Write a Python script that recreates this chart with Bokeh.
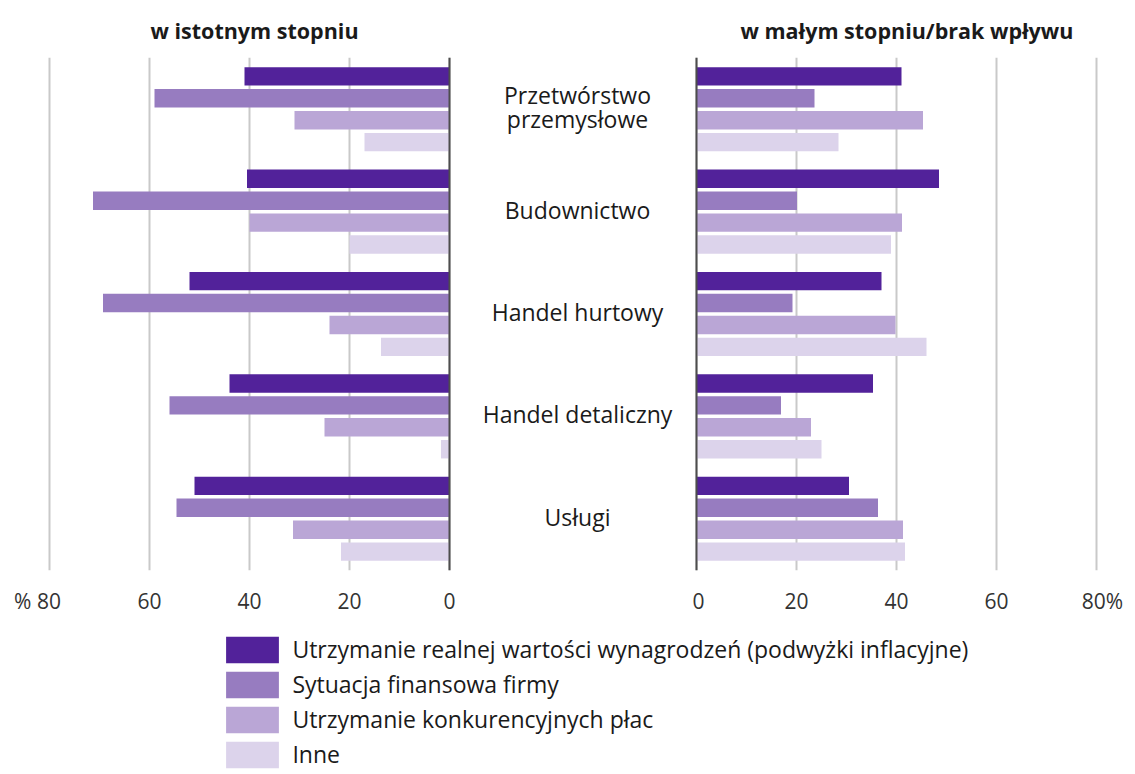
from bokeh.plotting import figure
from bokeh.models import (Range1d, FactorRange, FixedTicker, Span, Legend,
                          LegendItem, ColumnDataSource)
from bokeh.layouts import row, column
from bokeh.embed import file_html
from bokeh.resources import INLINE
from bokeh.core.properties import value

# ---------------- data ----------------
categories = ["Przetwórstwo przemysłowe", "Budownictwo", "Handel hurtowy",
              "Handel detaliczny", "Usługi"]
category_labels = ["Przetwórstwo\nprzemysłowe", "Budownictwo", "Handel hurtowy",
                   "Handel detaliczny", "Usługi"]
series = ["Utrzymanie realnej wartości wynagrodzeń (podwyżki inflacyjne)",
          "Sytuacja finansowa firmy",
          "Utrzymanie konkurencyjnych płac",
          "Inne"]
colors = ["#52229a", "#977cc0", "#baa6d6", "#dcd3eb"]
ticks = [0, 20, 40, 60, 80]
left_tick_labels = {80: "% 80\u2007\u2007"}
right_tick_labels = {80: "\u200780%"}

title_left = "w istotnym stopniu"
title_right = "w małym stopniu/brak wpływu"

# "w istotnym stopniu" (left panel)
sig_real = [41, 40.5, 52, 44, 51]
sig_fin = [59, 71.3, 69.3, 56, 54.6]
sig_comp = [31, 40, 24, 25, 31.3]
sig_other = [17, 20, 13.7, 1.7, 21.7]

# "w małym stopniu/brak wpływu" (right panel)
low_real = [41, 48.5, 37, 35.3, 30.5]
low_fin = [23.6, 20.1, 19.2, 16.9, 36.3]
low_comp = [45.3, 41.1, 39.8, 22.9, 41.3]
low_other = [28.4, 38.9, 46, 25, 41.7]

sig_values = [sig_real, sig_fin, sig_comp, sig_other]
low_values = [low_real, low_fin, low_comp, low_other]

# ---------------- styling ----------------
FONT = "Open Sans"
H_MAIN = 630
TOP = 55
BOTTOM = 60

factors = [(c, s) for c in reversed(categories) for s in reversed(series)]
yr = FactorRange(factors=factors, group_padding=0.67, factor_padding=0.0,
                 range_padding=0.032)


def panel(title, x_start, x_end, width, title_offset, overrides):
    p = figure(width=width, height=H_MAIN, x_range=Range1d(x_start, x_end),
               y_range=yr, output_backend="svg", toolbar_location=None,
               y_axis_location=None, min_border_left=0, min_border_right=0,
               min_border_top=TOP, min_border_bottom=BOTTOM, title=title)
    p.outline_line_color = None
    p.ygrid.visible = False
    p.xaxis.ticker = FixedTicker(ticks=ticks)
    p.xgrid.ticker = FixedTicker(ticks=ticks)
    p.xgrid.grid_line_color = "#c9c9c9"
    p.xgrid.grid_line_width = 2
    p.xaxis.axis_line_color = None
    p.xaxis.major_tick_line_color = None
    p.xaxis.minor_tick_line_color = None
    p.xaxis.major_label_text_font = FONT
    p.xaxis.major_label_text_font_size = "21px"
    p.xaxis.major_label_text_color = "#333333"
    p.xaxis.major_label_standoff = 10
    p.xaxis.major_label_overrides = overrides
    p.title.text_font = FONT
    p.title.text_font_size = "21.5px"
    p.title.text_font_style = "bold"
    p.title.text_color = "#1a1a1a"
    p.title.align = "left"
    p.title.offset = title_offset
    p.title.standoff = 26
    return p


left = panel(title_left, 89.8, -2.6, 462, 150, left_tick_labels)
right = panel(title_right, -0.8, 87.8, 443, 48, right_tick_labels)

for vals_list, p in ((sig_values, left), (low_values, right)):
    for s, vals, col in zip(series, vals_list, colors):
        src = ColumnDataSource(dict(y=[(c, s) for c in categories], v=vals))
        p.hbar(y="y", left=0, right="v", height=0.84, source=src,
               fill_color=col, line_color=None)
    p.add_layout(Span(location=0, dimension="height", line_color="#4d4d4d",
                      line_width=2))

mid = figure(width=230, height=H_MAIN, x_range=Range1d(0, 1), y_range=yr,
             output_backend="svg", toolbar_location=None,
             x_axis_location=None, y_axis_location=None,
             min_border_left=0, min_border_right=0,
             min_border_top=TOP, min_border_bottom=BOTTOM)
mid.outline_line_color = None
mid.grid.visible = False
mid.text(x=0.5, y="y", text="t",
         source=ColumnDataSource(dict(y=categories, t=category_labels)),
         text_font=value(FONT), text_font_size="23px", text_align="center",
         text_baseline="middle", text_color="#1a1a1a", text_line_height=0.74,
         y_offset=-2)

# ---------------- legend ----------------
lf = figure(width=1135, height=144, x_range=Range1d(0, 1), y_range=Range1d(0, 1),
            output_backend="svg", toolbar_location=None,
            x_axis_location=None, y_axis_location=None, min_border=0)
lf.outline_line_color = None
lf.grid.visible = False
items = []
for s, col in zip(series, colors):
    # placeholder renderer outside the visible range: only its legend swatch shows
    r = lf.hbar(y=[-5], left=[0], right=[0], height=0.5, fill_color=col,
                line_color=None)
    items.append(LegendItem(label=s, renderers=[r]))
legend = Legend(items=items, location=(219.4, 3.3), orientation="vertical",
                glyph_width=66, glyph_height=33, label_height=33, spacing=2,
                padding=0, margin=0, label_standoff=7,
                border_line_color=None, background_fill_alpha=0,
                label_text_font=FONT, label_text_font_size="23px",
                label_text_color="#1a1a1a")
lf.add_layout(legend, "center")

layout = column(row(left, mid, right), lf)
open("out.html", "w").write(file_html(layout, INLINE))
